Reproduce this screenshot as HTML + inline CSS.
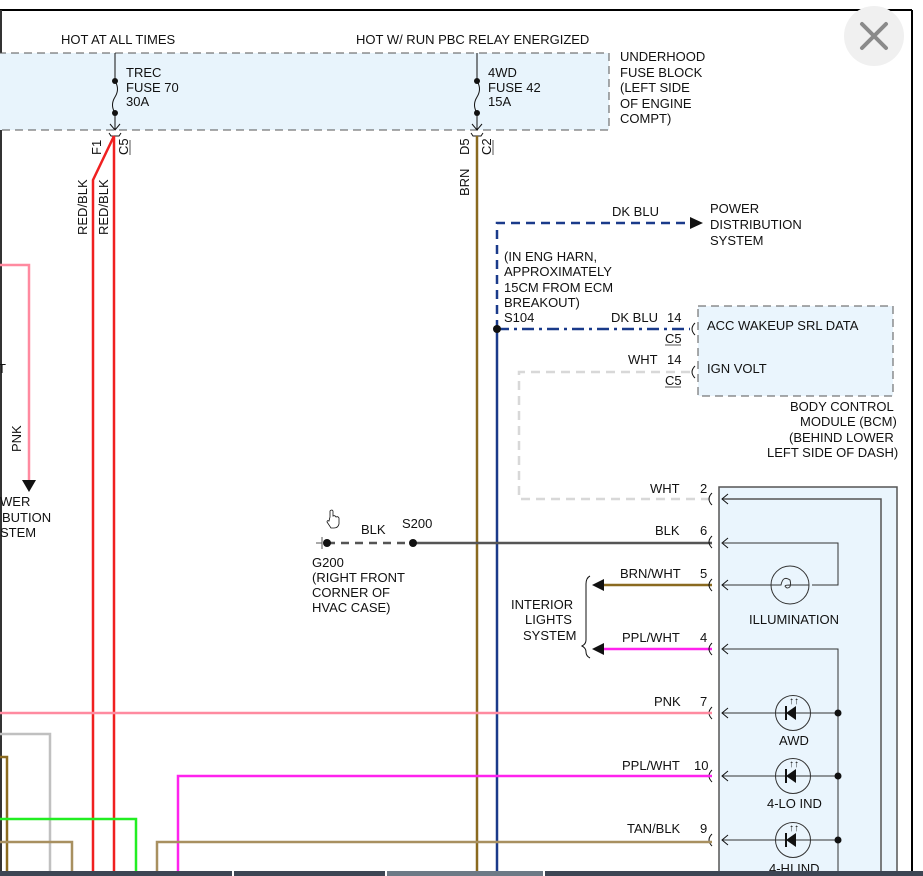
<!DOCTYPE html>
<html><head><meta charset="utf-8"><style>
html,body{margin:0;padding:0;background:#fff;width:923px;height:876px;overflow:hidden}
svg text{font-family:"Liberation Sans",Arial,sans-serif;font-size:13px;fill:#111}
</style></head><body>
<svg width="923" height="876" viewBox="0 0 923 876" xmlns="http://www.w3.org/2000/svg">
<!-- frame -->
<line x1="0" y1="10" x2="912" y2="10" stroke="#000" stroke-width="2"/>
<line x1="912" y1="10" x2="912" y2="876" stroke="#000" stroke-width="2"/>
<line x1="1" y1="10" x2="1" y2="876" stroke="#333" stroke-width="2"/>

<!-- fuse block -->
<rect x="-2" y="53" width="611" height="77" fill="#e8f4fc" stroke="#555" stroke-dasharray="8,5"/>
<text x="61" y="44">HOT AT ALL TIMES</text>
<text x="356" y="44">HOT W/ RUN PBC RELAY ENERGIZED</text>
<text x="620" y="61">UNDERHOOD</text>
<text x="620" y="77">FUSE BLOCK</text>
<text x="620" y="92">(LEFT SIDE</text>
<text x="620" y="108">OF ENGINE</text>
<text x="620" y="123">COMPT)</text>
<!-- fuse 1 -->
<path d="M115 53 V80 M115 113 V130" stroke="#111" fill="none"/>
<path d="M115 81 q5 8 0 16 q-5 8 0 16" stroke="#111" fill="none"/>
<circle cx="115" cy="81" r="3" fill="#111"/><circle cx="115" cy="113" r="3" fill="#111"/>
<path d="M110 124 L115 130 L120 124" stroke="#111" fill="none"/>
<path d="M109 133 L111 136 H119 L121 133" stroke="#111" fill="none"/>
<text x="126" y="77">TREC</text><text x="126" y="92">FUSE 70</text><text x="126" y="106">30A</text>
<!-- fuse 2 -->
<path d="M477 53 V80 M477 113 V130" stroke="#111" fill="none"/>
<path d="M477 81 q5 8 0 16 q-5 8 0 16" stroke="#111" fill="none"/>
<circle cx="477" cy="81" r="3" fill="#111"/><circle cx="477" cy="113" r="3" fill="#111"/>
<path d="M472 124 L477 130 L482 124" stroke="#111" fill="none"/>
<path d="M471 133 L473 136 H481 L483 133" stroke="#111" fill="none"/>
<text x="488" y="77">4WD</text><text x="488" y="92">FUSE 42</text><text x="488" y="106">15A</text>

<!-- red wires -->
<path d="M114 136 V876" stroke="#f02020" stroke-width="2.5" fill="none"/>
<path d="M114 136 L93 180 V876" stroke="#f02020" stroke-width="2.5" fill="none"/>
<text transform="translate(101,155) rotate(-90)">F1</text>
<text transform="translate(128,155) rotate(-90)">C5</text>
<line x1="130" y1="140" x2="130" y2="155" stroke="#555"/>
<text transform="translate(87,235) rotate(-90)">RED/BLK</text>
<text transform="translate(108,235) rotate(-90)">RED/BLK</text>

<!-- brown wire -->
<path d="M477 136 V876" stroke="#8a6a20" stroke-width="2.5"/>
<text transform="translate(469,155) rotate(-90)">D5</text>
<text transform="translate(491,155) rotate(-90)">C2</text>
<line x1="493" y1="140" x2="493" y2="155" stroke="#555"/>
<text transform="translate(469,196) rotate(-90)">BRN</text>

<!-- dark blue -->
<path d="M497 329 V223 H690" stroke="#1a3a8a" stroke-width="2.5" stroke-dasharray="9,6" fill="none"/>
<polygon points="690,217 703,223 690,229" fill="#111"/>
<text x="612" y="216">DK BLU</text>
<text x="710" y="213">POWER</text><text x="710" y="229">DISTRIBUTION</text><text x="710" y="245">SYSTEM</text>
<text x="504" y="261">(IN ENG HARN,</text><text x="504" y="276">APPROXIMATELY</text>
<text x="504" y="292">15CM FROM ECM</text><text x="504" y="307">BREAKOUT)</text>
<text x="504" y="322">S104</text>
<path d="M497 329 H690" stroke="#1a3a8a" stroke-width="2.5" stroke-dasharray="12,5,3,5"/>
<path d="M497 329 V876" stroke="#1a3a8a" stroke-width="2.5"/>
<circle cx="497" cy="329" r="4" fill="#111"/>
<text x="611" y="322">DK BLU</text><text x="667" y="322">14</text>
<text x="665" y="343">C5</text><line x1="665" y1="345" x2="681" y2="345" stroke="#555"/>
<path d="M695 323 q-6 6 0 12" stroke="#111" fill="none"/>

<!-- BCM -->
<rect x="698" y="306" width="195" height="90" fill="#eaf5fd" stroke="#555" stroke-dasharray="8,5"/>
<text x="707" y="330">ACC WAKEUP SRL DATA</text>
<text x="707" y="373">IGN VOLT</text>
<text x="628" y="364">WHT</text><text x="667" y="364">14</text>
<text x="665" y="385">C5</text><line x1="665" y1="387" x2="681" y2="387" stroke="#555"/>
<path d="M695 366 q-6 6 0 12" stroke="#111" fill="none"/>
<text x="790" y="411">BODY CONTROL</text>
<text x="800" y="426">MODULE (BCM)</text>
<text x="789" y="442">(BEHIND LOWER</text>
<text x="767" y="457">LEFT SIDE OF DASH)</text>
<path d="M690 372 H519 V499 H712" stroke="#d8d8d8" stroke-width="2.5" stroke-dasharray="9,6" fill="none"/>

<!-- right module -->
<rect x="719" y="487" width="178" height="400" fill="#eaf5fd" stroke="#555" stroke-width="1.5"/>
<path d="M722 499 H881 V876" stroke="#555" stroke-width="1.5" fill="none"/>
<text x="650" y="493">WHT</text><text x="700" y="493">2</text>
<path d="M712 493 q-6 6 0 12" stroke="#111" fill="none"/>
<path d="M728 494 L722 499 L728 504" stroke="#111" fill="none"/>

<!-- BLK -->
<path d="M327 543 H413" stroke="#555" stroke-width="2.5" stroke-dasharray="8,6"/>
<path d="M413 543 H712" stroke="#555" stroke-width="2.5"/>
<circle cx="413" cy="543" r="4" fill="#111"/><circle cx="327" cy="543" r="4" fill="#111"/>
<path d="M316 543 H322 M322 537 V549" stroke="#555"/>
<text x="361" y="534">BLK</text><text x="402" y="528">S200</text>
<text x="312" y="567">G200</text><text x="312" y="582">(RIGHT FRONT</text>
<text x="312" y="597">CORNER OF</text><text x="312" y="612">HVAC CASE)</text>
<text x="655" y="535">BLK</text><text x="700" y="535">6</text>
<path d="M712 536 q-6 6 0 12" stroke="#111" fill="none"/>
<path d="M728 538 L722 543 L728 548" stroke="#111" fill="none"/>
<path d="M722 543 H838 V585 H812" stroke="#333" fill="none"/>
<path d="M722 585 H771" stroke="#333"/>
<circle cx="790" cy="585" r="19" fill="none" stroke="#333"/>
<path d="M771 585 h10 q2 -10 9 -5 q2 8 -3 8 q-5 -3 3 -3 h19" stroke="#333" fill="none"/>
<text x="749" y="624">ILLUMINATION</text>
<!-- brn/wht -->
<path d="M600 585 H712" stroke="#8a6a20" stroke-width="2.5"/>
<polygon points="592,585 604,579 604,591" fill="#111"/>
<text x="620" y="578">BRN/WHT</text><text x="700" y="578">5</text>
<path d="M712 579 q-6 6 0 12" stroke="#111" fill="none"/>
<path d="M728 580 L722 585 L728 590" stroke="#111" fill="none"/>
<path d="M590 576 q-4 2 -4 8 V640 q0 4 -4 6 q4 2 4 6 V652 q0 4 4 6" stroke="#111" fill="none"/>
<text x="511" y="609">INTERIOR</text><text x="525" y="624">LIGHTS</text><text x="523" y="640">SYSTEM</text>
<!-- ppl/wht 4 -->
<path d="M600 649 H712" stroke="#ff22ee" stroke-width="2.5"/>
<polygon points="592,649 604,643 604,655" fill="#111"/>
<text x="622" y="642">PPL/WHT</text><text x="700" y="642">4</text>
<path d="M712 643 q-6 6 0 12" stroke="#111" fill="none"/>
<path d="M728 644 L722 649 L728 654" stroke="#111" fill="none"/>
<path d="M722 649 H838 V876" stroke="#333" fill="none"/>

<!-- LED rows -->
<g stroke="#333" fill="none">
<path d="M722 713 H838 M722 776 H838 M722 840 H838"/>
<circle cx="793" cy="713" r="17.5"/><circle cx="793" cy="776" r="17.5"/><circle cx="793" cy="840" r="17.5"/>
</g>
<g fill="#111">
<polygon points="786,713 796,706 796,720"/><rect x="785" y="706" width="2" height="14"/>
<polygon points="786,776 796,769 796,783"/><rect x="785" y="769" width="2" height="14"/>
<polygon points="786,840 796,833 796,847"/><rect x="785" y="833" width="2" height="14"/>
<circle cx="838" cy="713" r="3.5"/><circle cx="838" cy="776" r="3.5"/><circle cx="838" cy="840" r="3.5"/>
</g>
<text x="789" y="704" style="font-size:10px">↑↑</text>
<text x="789" y="767" style="font-size:10px">↑↑</text>
<text x="789" y="831" style="font-size:10px">↑↑</text>
<text x="779" y="745">AWD</text><text x="767" y="808">4-LO IND</text><text x="769" y="873">4-HI IND</text>
<g stroke="#111" fill="none">
<path d="M712 707 q-6 6 0 12 M728 708 L722 713 L728 718"/>
<path d="M712 770 q-6 6 0 12 M728 771 L722 776 L728 781"/>
<path d="M712 834 q-6 6 0 12 M728 835 L722 840 L728 845"/>
</g>
<text x="654" y="706">PNK</text><text x="700" y="706">7</text>
<text x="622" y="770">PPL/WHT</text><text x="694" y="770">10</text>
<text x="627" y="833">TAN/BLK</text><text x="700" y="833">9</text>

<!-- left wires -->
<path d="M0 713 H712" stroke="#ff8aa0" stroke-width="2.5"/>
<path d="M0 265 H29 V482" stroke="#ff8aa0" stroke-width="2.5" fill="none"/>
<polygon points="22,480 36,480 29,492" fill="#111"/>
<text transform="translate(21,452) rotate(-90)">PNK</text>
<text x="-2" y="373">T</text>
<text x="0" y="506">WER</text><text x="2" y="522">BUTION</text><text x="0" y="537">STEM</text>
<path d="M178 876 V776 H712" stroke="#ff22ee" stroke-width="2.5" fill="none"/>
<path d="M157 876 V842 H712" stroke="#a89060" stroke-width="2.5" fill="none"/>
<path d="M0 734 H50 V876" stroke="#c0c0c0" stroke-width="2.5" fill="none"/>
<path d="M0 757 H7 V876" stroke="#8a6a20" stroke-width="2.5" fill="none"/>
<path d="M0 819 H136 V876" stroke="#22ee22" stroke-width="2.5" fill="none"/>
<path d="M0 842 H72 V876" stroke="#a89060" stroke-width="2.5" fill="none"/>

<!-- cursor hand -->
<path d="M330 517 v-6 q2 -2 3 0 v5 q2 -1 3 1 q2 -1 3 1 v6 q-1 4 -5 4 h-3 l-4 -6 q0 -2 2 -1 z" fill="#fff" stroke="#111" stroke-width="0.8"/>

<!-- close button -->
<circle cx="874" cy="36" r="30" fill="#f0f0f0"/>
<path d="M862 24 L886 48 M886 24 L862 48" stroke="#8a8a8a" stroke-width="4" stroke-linecap="round"/>

<!-- bottom bar -->
<rect x="0" y="871" width="923" height="5" fill="#3d4654"/>
<rect x="232" y="871" width="2" height="5" fill="#fff"/>
<rect x="385" y="871" width="2" height="5" fill="#fff"/>
<rect x="387" y="871" width="156" height="5" fill="#6d7a86"/>
<rect x="543" y="871" width="2" height="5" fill="#fff"/>
</svg>
</body></html>
